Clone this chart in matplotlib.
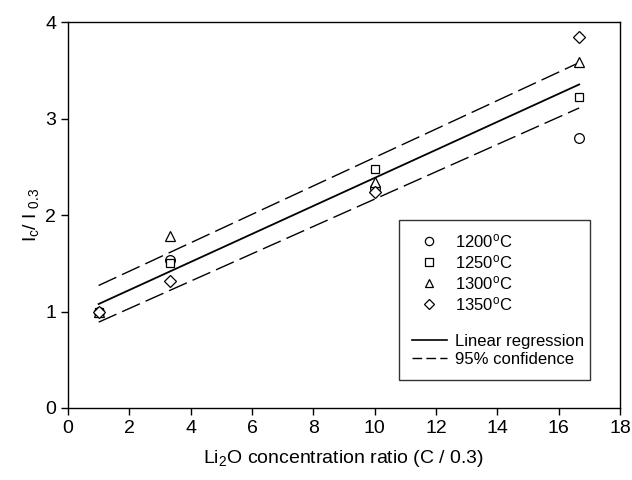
import numpy as np
import matplotlib
matplotlib.use('Agg')
import matplotlib.pyplot as plt
from matplotlib.lines import Line2D

plt.rcParams['font.family'] = ['Liberation Sans', 'DejaVu Sans']
plt.rcParams['mathtext.default'] = 'regular'

# concentration ratio (C / 0.3)
conc = [1.0, 3.33, 10.0, 16.67]

# Ic / I0.3 per sintering temperature
ratio_1200 = [1.0, 1.53, 2.28, 2.80]
ratio_1250 = [1.0, 1.50, 2.48, 3.22]
ratio_1300 = [1.0, 1.78, 2.34, 3.59]
ratio_1350 = [1.0, 1.32, 2.24, 3.85]

# 95% confidence band end values (at first and last concentration)
conf_x = [1.0, 16.67]
conf_upper = [1.27, 3.58]
conf_lower = [0.89, 3.11]

series = [
    ('1200$^{o}$C', ratio_1200, 'o', 7),
    ('1250$^{o}$C', ratio_1250, 's', 6),
    ('1300$^{o}$C', ratio_1300, '^', 7),
    ('1350$^{o}$C', ratio_1350, 'D', 6.5),
]

fig = plt.figure(figsize=(6.32, 4.8), dpi=100)
ax = fig.add_axes([0.1076, 0.15, 0.8734, 0.804])

# linear regression over all points
all_x = np.tile(conc, 4)
all_y = np.concatenate([ratio_1200, ratio_1250, ratio_1300, ratio_1350])
slope, icpt = np.polyfit(all_x, all_y, 1)
fit_x = np.array([conc[0], conc[-1]])
ax.plot(fit_x, slope * fit_x + icpt, color='black', lw=1.3, zorder=2)

dash = (0, (14, 4.5))
ax.plot(conf_x, conf_upper, color='black', lw=1.0, linestyle=dash, zorder=2)
ax.plot(conf_x, conf_lower, color='black', lw=1.0, linestyle=dash, zorder=2)

handles = []
for lab, ys, mk, ms in series:
    ax.plot(conc, ys, linestyle='none', marker=mk, markersize=ms,
            markerfacecolor='white', markeredgecolor='black', markeredgewidth=0.9, zorder=3)
    handles.append(Line2D([], [], linestyle='none', marker=mk, markersize=ms * 0.85,
                          markerfacecolor='white', markeredgecolor='black',
                          markeredgewidth=0.9, label=lab))
handles.append(Line2D([], [], linestyle='none', label=' '))
handles.append(Line2D([], [], color='black', lw=1.2, label='Linear regression'))
handles.append(Line2D([], [], color='black', lw=1.0, linestyle=(0, (7, 3)), label='95% confidence'))

leg = ax.legend(handles=handles, loc='lower left', bbox_to_anchor=(0.600, 0.073, 0.346, 0.419),
                mode='expand', fontsize=12, frameon=True, fancybox=False, edgecolor='black',
                borderpad=0.75, labelspacing=0.18, handlelength=2.1, handletextpad=0.5,
                borderaxespad=0)
leg.get_frame().set_linewidth(1.0)

ax.set_xlim(0, 18)
ax.set_ylim(0, 4)
ax.set_xticks(np.arange(0, 19, 2))
ax.set_yticks(np.arange(0, 5, 1))
ax.tick_params(direction='out', length=5, width=1, labelsize=14, top=False, right=False)
for s in ax.spines.values():
    s.set_linewidth(1.0)

ax.set_xlabel('Li$_2$O concentration ratio (C / 0.3)', fontsize=14, labelpad=8)
ax.set_ylabel('I$_c$/ I$_{\\ 0.3}$', fontsize=14, labelpad=3)

fig.savefig('out.png', dpi=100)
